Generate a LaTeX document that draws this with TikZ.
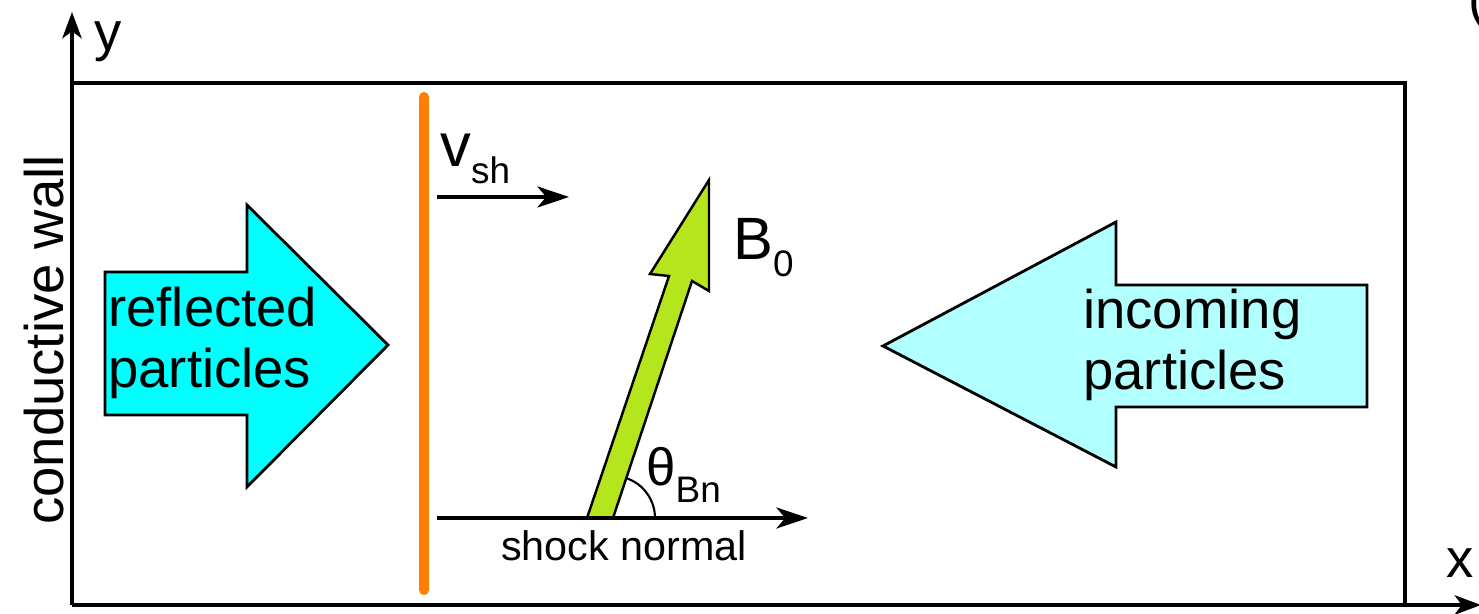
\documentclass[tikz,border=0pt]{standalone}
\usepackage{fontspec}
\setmainfont{Liberation Sans}
\usetikzlibrary{arrows.meta}
\definecolor{wallorange}{RGB}{255,128,0}
\definecolor{reflcyan}{RGB}{0,255,255}
\definecolor{inccyan}{RGB}{178,255,255}
\definecolor{fieldgreen}{RGB}{181,230,29}
\newcommand{\subtxt}[1]{\raisebox{-9.6pt}{\fontsize{21}{21}\selectfont #1}}
\tikzset{
  bigarrow/.style={draw=black,line width=1.6pt,line join=miter},
  txt/.style={inner sep=0pt,font=\fontsize{31}{35}\selectfont},
  vecarrow/.style={line width=2pt,-{Stealth[length=18pt,width=12pt,inset=5pt]}},
  axisarrow/.style={line width=2.2pt,-{Stealth[length=15pt,width=11pt,inset=4pt]}},
}
\begin{document}
\begin{tikzpicture}[x=0.02cm,y=0.02cm]
\useasboundingbox (0,0) rectangle (1479,614);
% axes and box
\coordinate (O) at (72,9);
\coordinate (ytop) at (72,602);
\coordinate (xend) at (1481,9);
\draw[axisarrow] (O) -- (ytop);
\draw[axisarrow] (O) -- (xend);
\draw[line width=2.3pt] (72,531) -- (1405,531) -- (1405,9);
\node[txt,anchor=base west] (ylab) at (94,563) {y};
\node[txt,anchor=base west] (xlab) at (1446,36) {x};
\node[txt,anchor=base west] (paren) at (1468,596) {(};
\node[txt,rotate=90] (wall) at (44,274) {conductive wall};
% shock front
\coordinate (shtop) at (424,517);
\coordinate (shbot) at (424,24);
\draw[wallorange,line width=5.7pt,line cap=round] (shtop) -- (shbot);
% particle arrows
\draw[bigarrow,fill=reflcyan] (105,342) -- (247,342) -- (247,409) -- (388,269)
  -- (247,127) -- (247,199) -- (105,199) -- cycle;
\node[txt,anchor=west,align=left] (refl) at (108,271) {reflected\\particles};
\draw[bigarrow,fill=inccyan] (883,268) -- (1116,392) -- (1116,329) -- (1367,329)
  -- (1367,207) -- (1116,207) -- (1116,147) -- cycle;
\node[txt,anchor=west,align=left] (inc) at (1083,269) {incoming\\particles};
% shock velocity
\coordinate (vs) at (437,417);
\coordinate (ve) at (569,417);
\draw[vecarrow] (vs) -- (ve);
\node[txt,anchor=base west,font=\fontsize{35}{35}\selectfont] (vsh) at (440,447) {v\subtxt{sh}};
% field and normal
\coordinate (ns) at (437,96);
\coordinate (ne) at (808,96);
\draw[bigarrow,fill=fieldgreen,line width=1.4pt] (587,96) -- (669,338) -- (650,340) -- (709,434)
  -- (709,323) -- (692,333) -- (613,96) -- cycle;
\draw[vecarrow] (ns) -- (ne);
\draw[line width=1.2pt] (655,96) arc[start angle=0,end angle=71.5,radius=42];
\node[txt,anchor=base west,font=\fontsize{34}{34}\selectfont] (bfield) at (733,354) {B\subtxt{0}};
\node[txt,anchor=base west,font=\fontsize{30}{30}\selectfont] (theta) at (646,128) {θ\subtxt{Bn}};
\node[txt,anchor=base,font=\fontsize{23.5}{23.5}\selectfont] (normal) at (624,53) {shock normal};
\end{tikzpicture}
\end{document}
